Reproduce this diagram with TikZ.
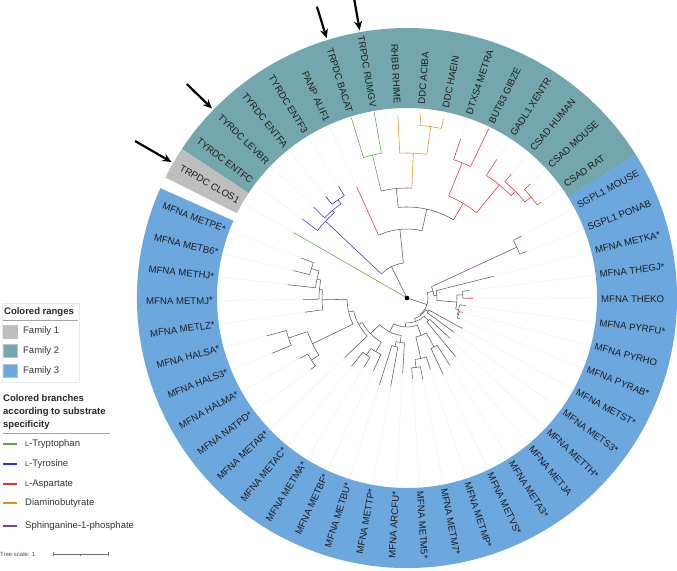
\documentclass[tikz,border=0pt]{standalone}
\usepackage{fontspec}
\setmainfont{Liberation Sans}
\usetikzlibrary{arrows.meta}

\definecolor{famone}{HTML}{BEBEBE}
\definecolor{famtwo}{HTML}{74A6AD}
\definecolor{famthree}{HTML}{6CA7DD}
\definecolor{treegrey}{HTML}{5A5A5A}
\definecolor{trpgreen}{HTML}{5FA640}
\definecolor{tyrblue}{HTML}{3030F0}
\definecolor{aspred}{HTML}{F03030}
\definecolor{daborange}{HTML}{E8900C}
\definecolor{sphpurple}{HTML}{7B3FB5}
\definecolor{labtext}{HTML}{1E1E1E}

\tikzstyle{tree} = [draw=treegrey, line width=0.55pt]
\tikzstyle{trp} = [draw=trpgreen, line width=0.55pt]
\tikzstyle{tyr} = [draw=tyrblue, line width=0.55pt]
\tikzstyle{asp} = [draw=aspred, line width=0.55pt]
\tikzstyle{dab} = [draw=daborange, line width=0.55pt]
\tikzstyle{sph} = [draw=sphpurple, line width=0.55pt]
\tikzstyle{guide} = [draw=black!7, line width=0.4pt]
\tikzstyle{leaflab} = [font=\fontsize{9.6}{11}\selectfont, text=labtext, inner sep=0pt]
\tikzstyle{legtext} = [font=\fontsize{9.5}{11}\selectfont, text=black!80, inner sep=0pt]
\tikzstyle{legtitle} = [font=\fontsize{9.5}{13}\selectfont\bfseries, text=black!85, inner sep=0pt]
\tikzstyle{pointer} = [line width=2.2pt, -{Stealth[length=9pt,width=8pt]}]

% radial piece, arc of a clade, leaf with its guide line
\newcommand{\stem}[4][tree]{\draw[#1] (#2:#3) -- (#2:#4);}
\newcommand{\clade}[4][tree]{\draw[#1] (#2:#4) arc[start angle=#2, end angle=#3, radius=#4pt];}
\newcommand{\tip}[4][tree]{\draw[guide] (#2:#4) -- (#2:190); \draw[#1] (#2:#3) -- (#2:#4);}
\newcommand{\smallL}{{\fontsize{7.2}{8}\selectfont L}}

\begin{document}
\begin{tikzpicture}[x=1pt, y=1pt]
\useasboundingbox (-407,-272) rectangle (270,298);

% colored ranges
\fill[famthree] (32:190) arc[start angle=32, end angle=-204, radius=190pt] -- (-204:270) arc[start angle=-204, end angle=32, radius=270pt] -- cycle;
\fill[famtwo] (32:190) arc[start angle=32, end angle=146.5, radius=190pt] -- (146.5:270) arc[start angle=146.5, end angle=32, radius=270pt] -- cycle;
\fill[famone] (146.5:190) arc[start angle=146.5, end angle=153.5, radius=190pt] -- (153.5:270) arc[start angle=153.5, end angle=146.5, radius=270pt] -- cycle;

% leaf labels
\foreach \lab [count=\i from 0] in {CSAD RAT, CSAD MOUSE, CSAD HUMAN, GADL1 XENTR, BUT83 GIBZE, DTXS4 METRA, DDC HAEIN, DDC ACIBA} {
  \pgfmathsetmacro{\a}{35.58+7.16*\i}
  \node[leaflab, anchor=west, rotate=\a] (tr\i) at (\a:194) {\lab};
}
\foreach \lab [count=\i from 0] in {RHBB RHIME, TRPDC RUMGV, TRPDC BACAT, PANP ALIF1, TYRDC ENTF3, TYRDC ENTFA, TYRDC LEVBR, TYRDC ENTFC} {
  \pgfmathsetmacro{\a}{92.86+7.16*\i}
  \pgfmathsetmacro{\b}{\a+180}
  \node[leaflab, anchor=east, rotate=\b] (tl\i) at (\a:194) {\lab};
}
\node[leaflab, anchor=east, rotate=330] (clos) at (150:194) {TRPDC CLOS1};
\foreach \lab [count=\i from 0] in {SGPL1 MOUSE, SGPL1 PONAB, MFNA METKA*, MFNA THEGJ*, MFNA THEKO, MFNA PYRFU*, MFNA PYRHO, MFNA PYRAB*, MFNA METST*, MFNA METS3*, MFNA METTH*, MFNA METJA, MFNA META3*, MFNA METVS*, MFNA METMP*, MFNA METM7*, MFNA METM5*} {
  \pgfmathsetmacro{\a}{28.42-7.16*\i}
  \node[leaflab, anchor=west, rotate=\a] (br\i) at (\a:194) {\lab};
}
\foreach \lab [count=\i from 0] in {MFNA ARCFU*, MFNA METTP*, MFNA METBU*, MFNA METBF*, MFNA METMA*, MFNA METAC*, MFNA METAR*, MFNA NATPD*, MFNA HALMA*, MFNA HALS3*, MFNA HALSA*, MFNA METLZ*, MFNA METMJ*, MFNA METHJ*, MFNA METB6*, MFNA METPE*} {
  \pgfmathsetmacro{\a}{-93.3-7.16*\i}
  \pgfmathsetmacro{\b}{\a+180}
  \node[leaflab, anchor=east, rotate=\b] (bl\i) at (\a:194) {\lab};
}

% tree: root
\stem{116.3}{0}{35}
\tip[trp]{150}{0}{131}
\stem{-18.2}{0}{21}
% tyrosine clade
\clade{95.9}{136.7}{35}
\stem[tyr]{136.7}{35}{112}
\clade[tyr]{130.45}{142.98}{112}
\tip[tyr]{142.98}{112}{131}
\stem[tyr]{130.45}{112}{115}
\clade[tyr]{125.08}{135.82}{115}
\tip[tyr]{135.82}{115}{130}
\stem[tyr]{125.08}{115}{120}
\clade[tyr]{121.5}{128.66}{120}
\tip[tyr]{128.66}{120}{130}
\tip[tyr]{121.5}{120}{131}
\stem{95.9}{35}{69}
\clade{77.4}{114.34}{69}
\tip[asp]{114.34}{69}{122}
\stem{77.4}{69}{91}
\clade{59.3}{95.55}{91}
% tryptophan and diaminobutyrate
\stem{95.55}{91}{110}
\clade{87.5}{103.6}{110}
\stem[trp]{103.6}{110}{147}
\clade[trp]{100.02}{107.18}{147}
\tip[trp]{107.18}{147}{189}
\tip[trp]{100.02}{147}{189}
\stem[dab]{87.5}{110}{145}
\clade[dab]{82.12}{92.86}{145}
\tip[dab]{92.86}{145}{183}
\stem[dab]{82.12}{145}{173}
\clade[dab]{78.54}{85.70}{173}
\tip[dab]{85.70}{173}{185}
\tip[dab]{78.54}{173}{183}
% aspartate
\stem[asp]{59.3}{91}{110}
\clade[asp]{50.8}{67.8}{110}
\stem[asp]{67.8}{110}{146}
\clade[asp]{64.22}{71.38}{146}
\tip[asp]{71.38}{146}{168}
\tip[asp]{64.22}{146}{188}
\stem[asp]{50.8}{110}{146}
\clade[asp]{44.53}{57.06}{146}
\tip[asp]{57.06}{146}{165}
\stem[asp]{44.53}{146}{152}
\clade[asp]{39.16}{49.9}{152}
\tip[asp]{49.9}{152}{162}
\stem[asp]{39.16}{152}{160}
\clade[asp]{35.58}{42.74}{160}
\tip[asp]{42.74}{160}{168}
\tip[asp]{35.58}{160}{165}
% sphinganine and thermococci
\clade{-51.2}{14.77}{21}
\stem{14.77}{21}{27}
\clade{4.7}{24.84}{27}
\stem[sph]{24.84}{27}{121}
\clade[sph]{21.26}{28.42}{121}
\tip[sph]{28.42}{121}{130}
\tip[sph]{21.26}{121}{128}
\stem{4.7}{27}{30}
\clade{-4.7}{14.1}{30}
\tip{14.1}{30}{90}
\stem{-4.7}{30}{50}
\clade{-12.75}{3.36}{50}
\stem{3.36}{50}{56}
\clade{-0.22}{6.94}{56}
\tip{6.94}{56}{62}
\stem{-0.22}{56}{59}
\tip[asp]{-0.22}{59}{66}
\stem{-12.75}{50}{53}
\clade{-18.12}{-7.38}{53}
\tip{-7.38}{53}{59}
\stem{-18.12}{53}{54}
\clade{-21.7}{-14.54}{54}
\stem{-14.54}{54}{55}
\tip[asp]{-14.54}{55}{58}
\tip{-21.7}{54}{57}
% methanogens ladder
\stem{-51.2}{21}{22}
\clade{-69.96}{-32.44}{22}
\stem{-32.44}{22}{25}
\clade{-36.02}{-28.86}{25}
\tip{-28.86}{25}{63}
\tip{-36.02}{25}{58}
\stem{-69.96}{22}{25}
\clade{-93.15}{-46.76}{25}
\stem{-46.76}{25}{31}
\clade{-50.34}{-43.18}{31}
\tip{-43.18}{31}{59}
\stem{-50.34}{31}{60}
\tip[tyr]{-50.34}{60}{76}
\stem{-93.15}{25}{29}
\clade{-117.2}{-69.1}{29}
\stem{-69.1}{29}{40}
\clade{-77.19}{-61.08}{40}
\stem{-61.08}{40}{56}
\clade{-64.66}{-57.5}{56}
\tip{-57.5}{56}{80}
\tip{-64.66}{56}{84}
\stem{-77.19}{40}{62}
\clade{-82.56}{-71.82}{62}
\tip{-71.82}{62}{75}
\stem{-82.56}{62}{70}
\clade{-86.14}{-78.98}{70}
\tip{-78.98}{70}{83}
\tip{-86.14}{70}{81}
\stem{-117.2}{29}{38}
\clade{-135.76}{-98.67}{38}
\stem{-98.67}{38}{45}
\clade{-104.04}{-93.3}{45}
\tip{-93.3}{45}{75}
\stem{-104.04}{45}{50}
\clade{-107.62}{-100.46}{50}
\tip{-100.46}{50}{90}
\tip{-107.62}{50}{91}
\stem{-135.76}{38}{51}
\clade{-151.37}{-120.15}{51}
\stem{-120.15}{51}{62}
\clade{-125.52}{-114.78}{62}
\tip{-114.78}{62}{80}
\stem{-125.52}{62}{70}
\clade{-129.1}{-121.94}{70}
\tip{-121.94}{70}{82}
\tip{-129.1}{70}{88}
\stem{-151.37}{51}{55}
\clade{-166.47}{-136.26}{55}
\tip{-136.26}{55}{86}
\stem{-166.47}{55}{60}
\clade{-178.78}{-154.16}{60}
% haloarchaea
\stem{-154.16}{60}{105}
\clade{-161.32}{-147}{105}
\stem{-147}{105}{114}
\clade{-150.58}{-143.42}{114}
\tip{-143.42}{114}{120}
\tip{-150.58}{114}{123}
\stem{-161.32}{105}{125}
\clade{-164.9}{-157.74}{125}
\tip{-157.74}{125}{146}
\tip{-164.9}{125}{145}
\stem{-178.78}{60}{85}
\clade{-185.49}{-172.06}{85}
\tip{-172.06}{85}{103}
\stem{-185.49}{85}{88}
\clade{-191.75}{-179.22}{88}
\tip{-179.22}{88}{104}
\stem{-191.75}{88}{92}
\clade{-197.12}{-186.38}{92}
\tip{-186.38}{92}{120}
\stem{-197.12}{92}{100}
\clade{-200.7}{-193.54}{100}
\tip{-193.54}{100}{117}
\tip{-200.7}{100}{113}
\fill (0,0) circle (2.3pt);

% arrows
\coordinate (p1) at (150:314);    \coordinate (q1) at (150:272);
\coordinate (p2) at (135.82:307); \coordinate (q2) at (135.82:272);
\coordinate (p3) at (107.18:305); \coordinate (q3) at (107.18:272);
\coordinate (p4) at (100.02:305); \coordinate (q4) at (100.02:272);
\draw[pointer] (p1) -- (q1);
\draw[pointer] (p2) -- (q2);
\draw[pointer] (p3) -- (q3);
\draw[pointer] (p4) -- (q4);

% legend
\draw[black!8] (-405,-5) rectangle (-328,-84);
\node[legtitle, anchor=west] (ranges) at (-403,-14) {Colored ranges};
\draw[black!35, line width=0.8pt] (-404,-22) -- (-329,-22);
\foreach \c/\n [count=\k] in {famone/1, famtwo/2, famthree/3} {
  \pgfmathsetmacro{\yy}{-13.5-19.75*\k}
  \filldraw[fill=\c, draw=black!25] (-404,\yy-6.5) rectangle (-390,\yy+6.5);
  \node[legtext, anchor=west] (fam\k) at (-384,\yy) {Family \n};
}
\node[legtitle, anchor=west, align=left] (branches) at (-404,-114) {Colored branches\\according to substrate\\specificity};
\draw[black!35, line width=0.8pt] (-404,-135) -- (-297,-135);
\foreach \c/\y/\t [count=\k] in {trpgreen/-146/\smallL-Tryptophan, tyrblue/-166/\smallL-Tyrosine, aspred/-186/\smallL-Aspartate, daborange/-205/Diaminobutyrate, sphpurple/-228/Sphinganine-1-phosphate} {
  \draw[\c, line width=1.6pt] (-404,\y) -- (-390,\y);
  \node[legtext, anchor=west] (sub\k) at (-382,\y) {\t};
}
\node[font=\fontsize{6}{7}\selectfont, text=black!70, anchor=west, inner sep=0pt] (scale) at (-407,-256) {Tree scale: 1};
\draw[black!55, line width=0.5pt] (-354,-256) -- (-299,-256);
\draw[black!55, line width=0.5pt] (-354,-258) -- (-354,-254) (-299,-258) -- (-299,-254) (-326.5,-257.5) -- (-326.5,-256);
\end{tikzpicture}
\end{document}
